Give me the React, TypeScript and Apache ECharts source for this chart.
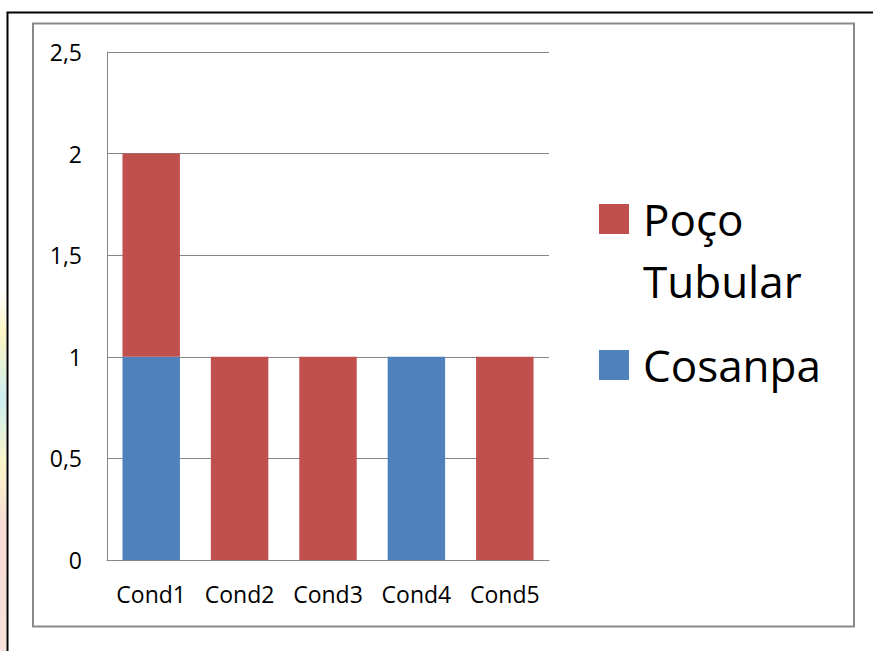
import React, { useEffect, useRef } from "react";
import * as echarts from "echarts";

const categories = ["Cond1", "Cond2", "Cond3", "Cond4", "Cond5"];
const cosanpaValues = [1, 0, 0, 1, 0];
const pocoValues = [1, 1, 1, 0, 1];
const seriesNames = ["Cosanpa", "Poço Tubular"];
const colors = { cosanpa: "#4F81BD", poco: "#C0504D" };
const FONT = "Open Sans";

export default function App() {
  const ref = useRef<HTMLDivElement>(null);
  useEffect(() => {
    if (!ref.current) return;
    const chart = echarts.init(ref.current, null, { renderer: "svg" });
    const legendText = {
      fontFamily: FONT,
      fontSize: 44,
      lineHeight: 62,
      color: "#000",
      padding: [0, 0, 0, 9],
    };
    chart.setOption({
      animation: false,
      backgroundColor: "#ffffff",
      textStyle: { fontFamily: FONT },
      grid: { left: 107, top: 52, right: 324, bottom: 91, containLabel: false },
      xAxis: {
        type: "category",
        data: categories,
        axisLine: { show: true, lineStyle: { color: "#868686", width: 1 } },
        axisTick: { show: false },
        axisLabel: { color: "#000", fontSize: 23, fontFamily: FONT, margin: 22, interval: 0 },
        splitLine: { show: false },
      },
      yAxis: {
        type: "value",
        min: 0,
        max: 2.5,
        interval: 0.5,
        axisLine: { show: true, lineStyle: { color: "#868686", width: 1 } },
        axisTick: { show: false },
        axisLabel: {
          color: "#000",
          fontSize: 23,
          fontFamily: FONT,
          margin: 25,
          formatter: (v: number) => String(v).replace(".", ","),
        },
        splitLine: { show: true, lineStyle: { color: "#868686", width: 1 } },
      },
      legend: [
        {
          data: [
            {
              name: seriesNames[1],
              icon: "path://M0,0L30,0L30,30L0,30ZM0,92",
            },
          ],
          orient: "vertical",
          left: 599,
          top: 188,
          padding: 0,
          itemWidth: 30,
          itemHeight: 92,
          selectedMode: false,
          formatter: () => "Poço\nTubular",
          textStyle: legendText,
        },
        {
          data: [{ name: seriesNames[0], icon: "rect" }],
          orient: "vertical",
          left: 599,
          top: 334,
          padding: 0,
          itemWidth: 30,
          itemHeight: 30,
          selectedMode: false,
          textStyle: legendText,
        },
      ],
      graphic: [
        {
          type: "rect",
          left: 0,
          top: 290,
          shape: { x: 0, y: 0, width: 6, height: 361 },
          style: {
            fill: new echarts.graphic.LinearGradient(0, 0, 0, 1, [
              { offset: 0, color: "#ffffff" },
              { offset: 0.12, color: "#fdf6c4" },
              { offset: 0.3, color: "#cdeef0" },
              { offset: 0.48, color: "#fbf6c8" },
              { offset: 0.65, color: "#f8dcd6" },
              { offset: 1, color: "#f9e0da" },
            ]),
          },
          z: -10,
        },
        {
          type: "rect",
          shape: { x: 7.5, y: 12.5, width: 900, height: 700 },
          style: { fill: "none", stroke: "#000", lineWidth: 2 },
          silent: true,
        },
        {
          type: "rect",
          shape: { x: 33, y: 23.5, width: 821, height: 603 },
          style: { fill: "none", stroke: "#898989", lineWidth: 2 },
          silent: true,
        },
      ],
      series: [
        {
          name: seriesNames[0],
          type: "bar",
          stack: "total",
          data: cosanpaValues,
          barCategoryGap: "35%",
          itemStyle: { color: colors.cosanpa },
        },
        {
          name: seriesNames[1],
          type: "bar",
          stack: "total",
          data: pocoValues,
          barCategoryGap: "35%",
          itemStyle: { color: colors.poco },
        },
      ],
    });
    return () => chart.dispose();
  }, []);
  return (
    <div
      ref={ref}
      style={{ position: "absolute", left: 0, top: 0, width: 873, height: 651 }}
    />
  );
}
